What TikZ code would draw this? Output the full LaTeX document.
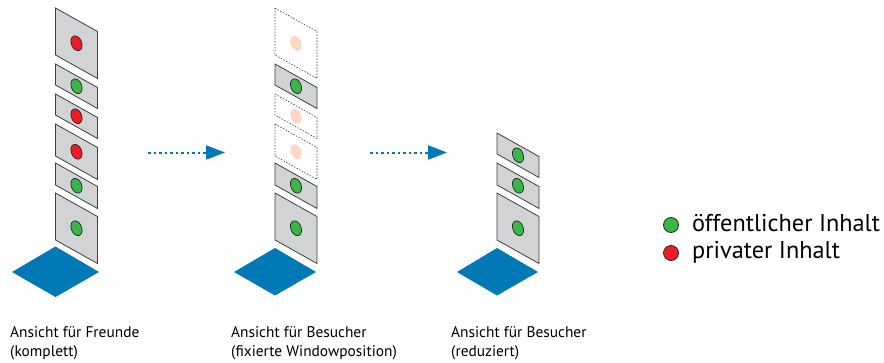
\documentclass[tikz,border=0pt]{standalone}
\usepackage{fontspec}
\setmainfont{PT Sans}
\usetikzlibrary{arrows.meta}
\definecolor{floorblue}{HTML}{0079B6}
\definecolor{panelgrey}{HTML}{D1D3D4}
\definecolor{pubgreen}{HTML}{39B54A}
\definecolor{privred}{HTML}{ED1C24}
\definecolor{fadedred}{HTML}{FBD7C4}
\tikzset{
  panel/.style={draw=black!75,fill=panelgrey,line width=0.8pt},
  hiddenpanel/.style={draw=black!75,line width=0.6pt,dash pattern=on 1.5pt off 1.5pt},
  pubdot/.style={draw=black!85,fill=pubgreen,line width=0.7pt},
  privdot/.style={draw=black!85,fill=privred,line width=0.7pt},
  fadedot/.style={fill=fadedred},
  floorplate/.style={fill=floorblue},
  flowarrow/.style={draw=floorblue,line width=2pt,dash pattern=on 2.5pt off 3pt,-{Triangle[length=19pt,width=14pt]}},
  caption/.style={anchor=base west,inner sep=0pt,font=\fontsize{15.4}{17}\selectfont},
  legendtext/.style={anchor=base west,inner sep=0pt,font=\fontsize{24.3}{27}\selectfont},
  legenddot/.style={circle,minimum size=15pt,inner sep=0pt,line width=0.8pt,draw=black!85}
}
% one window: left edge x, top y, height, panel style, dot style
\newcommand{\windowpanel}[5]{
  \draw[#4] (#1,#2) -- ++(42,23.5) -- ++(0,#3) -- ++(-42,-23.5) -- cycle;
  \path[#5] (#1+21,#2+11.75+#3/2) ellipse [x radius=5.2,y radius=7.7,rotate=22];
}
\begin{document}
\begin{tikzpicture}[x=1pt,y=-1pt]
\useasboundingbox (0,0) rectangle (884,362);
% first column
\foreach \ytop/\hgt/\dotstyle in {8/47/privdot,64/21/pubdot,94/21/privdot,124/32/privdot,163/22/pubdot,193/47/pubdot}
  \windowpanel{55.5}{\ytop}{\hgt}{panel}{\dotstyle};
\fill[floorplate] (12,272) -- (55.5,246.5) -- (99,272) -- (55.5,297) -- cycle;
% second column
\foreach \ytop/\hgt in {8/47,94/21,124/32}
  \windowpanel{275}{\ytop}{\hgt}{hiddenpanel}{fadedot};
\foreach \ytop/\hgt in {64/21,163/22,193/47}
  \windowpanel{275}{\ytop}{\hgt}{panel}{pubdot};
\fill[floorplate] (234,272) -- (275,248) -- (316,272) -- (275,295.5) -- cycle;
% third column
\foreach \ytop/\hgt in {133/21,163/22,193/47}
  \windowpanel{497}{\ytop}{\hgt}{panel}{pubdot};
\fill[floorplate] (457,272) -- (497,248) -- (538,272) -- (497,295.5) -- cycle;
% arrows
\coordinate (arrowAstart) at (148,152.5);
\coordinate (arrowAend) at (225,152.5);
\coordinate (arrowBstart) at (370,152.5);
\coordinate (arrowBend) at (447,152.5);
\draw[flowarrow] (arrowAstart) -- (arrowAend);
\draw[flowarrow] (arrowBstart) -- (arrowBend);
% captions
\node[caption] (capAa) at (10,337) {Ansicht für Freunde};
\node[caption] (capAb) at (10,356) {(komplett)};
\node[caption] (capBa) at (231,337) {Ansicht für Besucher};
\node[caption] (capBb) at (231,356) {(fixierte Windowposition)};
\node[caption] (capCa) at (451,337) {Ansicht für Besucher};
\node[caption] (capCb) at (451,356) {(reduziert)};
% legend
\node[legenddot,fill=pubgreen] (pubmark) at (671,225) {};
\node[legenddot,fill=privred] (privmark) at (671,253) {};
\node[legendtext] (pubtext) at (692,231) {öffentlicher Inhalt};
\node[legendtext] (privtext) at (692,258) {privater Inhalt};
\end{tikzpicture}
\end{document}
